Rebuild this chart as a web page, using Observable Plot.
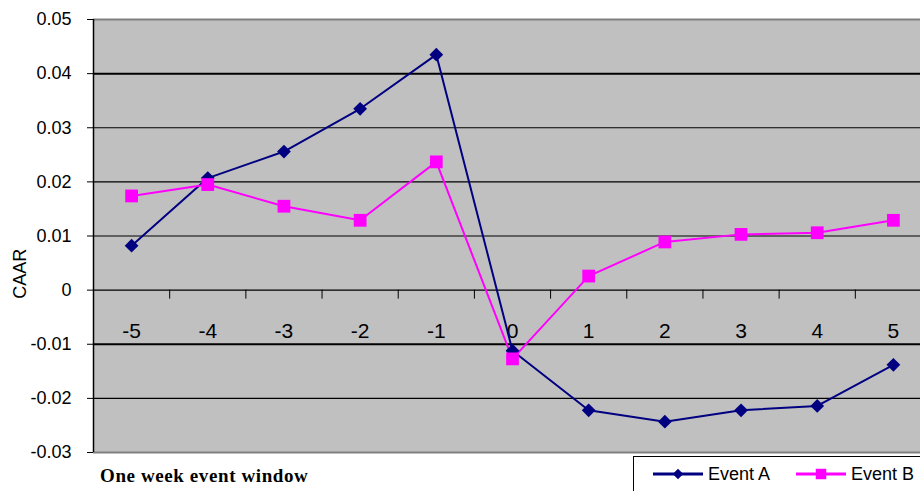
<!DOCTYPE html>
<html>
<head>
<meta charset="utf-8">
<script src="https://cdn.jsdelivr.net/npm/d3@7"></script>
<script src="https://cdn.jsdelivr.net/npm/@observablehq/plot@0.6"></script>
<style>
  html, body { margin: 0; padding: 0; background: white; }
  #wrap { position: relative; width: 920px; height: 491px; overflow: hidden; }
  #caption { position: absolute; left: 100px; top: 465px; font-family: "Liberation Serif", "DejaVu Serif", serif; font-weight: bold; font-size: 19px; color: #000; letter-spacing: 0.6px; }
  #legend { position: absolute; left: 633px; top: 456px; width: 300px; height: 40px; border-left: 1px solid #000; border-top: 1px solid #000; font-family: "Liberation Sans", Arial, sans-serif; font-size: 18px; }
  #legend .item { position: absolute; top: 3px; display: flex; align-items: center; }
  #legend svg { display: block; }
</style>
</head>
<body>
<div id="wrap">
  <div id="chart"></div>
  <div id="caption">One week event window</div>
  <div id="legend"></div>
</div>
<script>
const days = [-5, -4, -3, -2, -1, 0, 1, 2, 3, 4, 5];
const dayLabels = ["-5", "-4", "-3", "-2", "-1", "0", "1", "2", "3", "4", "5"];
const eventA = [0.0082, 0.0207, 0.0256, 0.0335, 0.0435, -0.0112, -0.0222, -0.0243, -0.0222, -0.0214, -0.0138];
const eventB = [0.0174, 0.0195, 0.0155, 0.0129, 0.0237, -0.0127, 0.0026, 0.0089, 0.0103, 0.0106, 0.0129];
const seriesNames = ["Event A", "Event B"];
const yTicks = [-0.03, -0.02, -0.01, 0, 0.01, 0.02, 0.03, 0.04, 0.05];
const yTickLabels = ["-0.03", "-0.02", "-0.01", "0", "0.01", "0.02", "0.03", "0.04", "0.05"];
const dayBoundaries = [-4.5, -3.5, -2.5, -1.5, -0.5, 0.5, 1.5, 2.5, 3.5, 4.5];

const colorA = "#000080";
const colorB = "#ff00ff";

const rowsA = days.map((d, i) => ({day: d, value: eventA[i], series: seriesNames[0]}));
const rowsB = days.map((d, i) => ({day: d, value: eventB[i], series: seriesNames[1]}));

const chart = Plot.plot({
  width: 920,
  height: 491,
  marginLeft: 93,
  marginTop: 19,
  marginBottom: 39,
  marginRight: 0,
  style: {fontFamily: "Liberation Sans, Arial, sans-serif", background: "white", color: "black"},
  x: {domain: [-5.5, 5.5], range: [93, 931], axis: null},
  y: {domain: [-0.03, 0.05], range: [452, 19], axis: null},
  marks: [
    Plot.frame({fill: "#c0c0c0", stroke: null}),
    Plot.ruleY(yTicks.filter(d => d > -0.03 && d < 0.05), {stroke: "black", strokeWidth: d => (d === 0.04 || d === -0.01) ? 2 : 1.2}),
    Plot.ruleY([0.05, -0.03], {stroke: "#808080", strokeWidth: 2}),
    Plot.ruleX([-5.5], {stroke: "black", strokeWidth: 1.5}),
    Plot.axisY({ticks: yTicks, tickFormat: d => yTickLabels[yTicks.indexOf(d)], tickSize: 6, tickPadding: 16, fontSize: 18, label: null}),
    Plot.text(["CAAR"], {rotate: -90, dx: -73, dy: 1, fontSize: 18, text: d => d, y: 0.0032, x: -5.5}),
    Plot.ruleX(dayBoundaries, {y1: 0, y2: 0, insetBottom: -9, stroke: "black", strokeWidth: 1}),
    Plot.text(days, {x: d => d, y: 0, text: (d, i) => dayLabels[i], dy: 41, fontSize: 21}),
    Plot.line(rowsA, {x: "day", y: "value", stroke: colorA, strokeWidth: 2}),
    Plot.line(rowsB, {x: "day", y: "value", stroke: colorB, strokeWidth: 2}),
    Plot.dot(rowsA, {x: "day", y: "value", fill: colorA, symbol: "diamond2", r: 6.2}),
    Plot.dot(rowsB, {x: "day", y: "value", fill: colorB, symbol: "square", r: 7.2})
  ]
});
document.getElementById("chart").appendChild(chart);

// Legend
const legend = d3.select("#legend");
const items = [
  {name: seriesNames[0], color: colorA, symbol: d3.symbolDiamond2, size: 70, left: 18},
  {name: seriesNames[1], color: colorB, symbol: d3.symbolSquare, size: 110, left: 161}
];
for (const it of items) {
  const div = legend.append("div").attr("class", "item").style("left", it.left + "px");
  const svg = div.append("svg").attr("width", 54).attr("height", 28);
  svg.append("line").attr("x1", 1).attr("x2", 51).attr("y1", 14).attr("y2", 14).attr("stroke", it.color).attr("stroke-width", 3);
  svg.append("path").attr("d", d3.symbol(it.symbol, it.size)()).attr("transform", "translate(26,14)").attr("fill", it.color);
  div.append("span").text(it.name).style("margin-left", "2px");
}
</script>
</body>
</html>
